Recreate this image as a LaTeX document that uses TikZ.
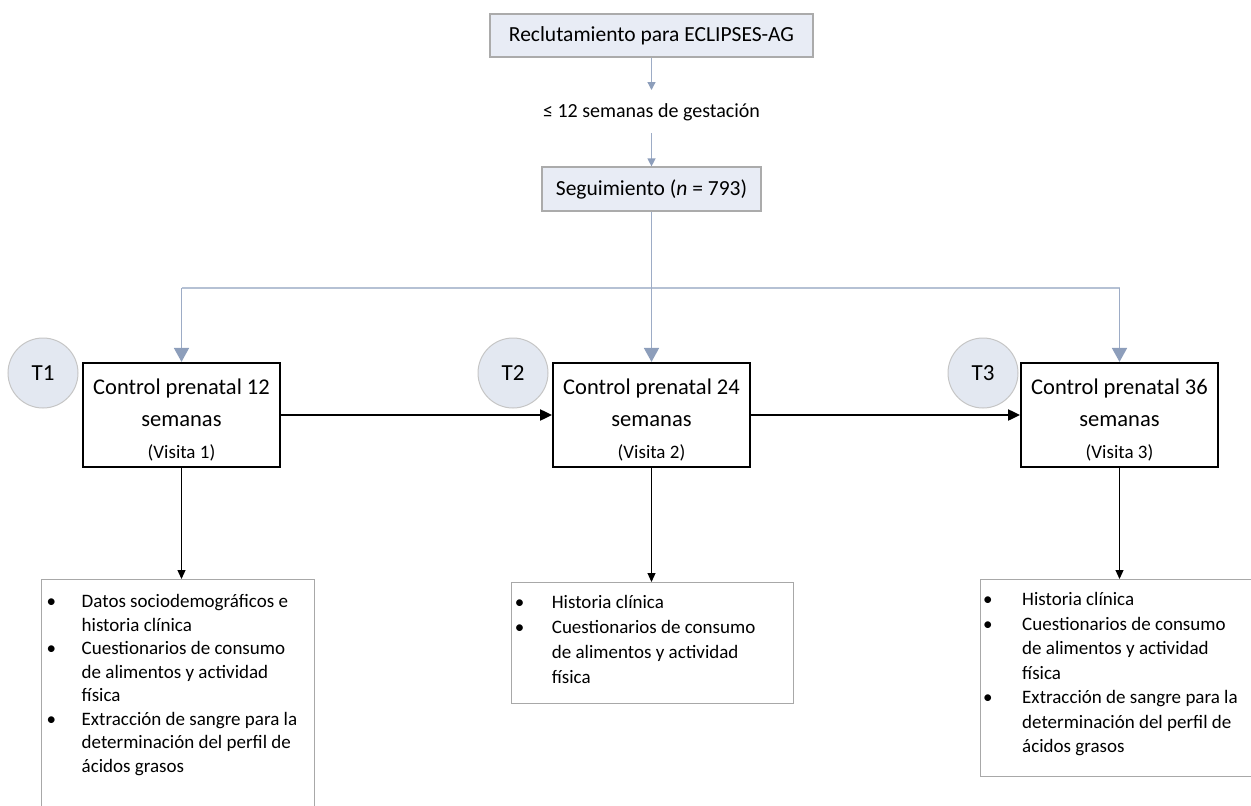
\documentclass[tikz,border=0pt]{standalone}
\usepackage{fontspec}
\setmainfont{Carlito}
\usetikzlibrary{arrows.meta}

\definecolor{flowblue}{HTML}{9DACC6}
\definecolor{headblue}{HTML}{8D9EBB}
\definecolor{hdrfill}{HTML}{E8ECF5}
\definecolor{hdrline}{HTML}{ABABAB}
\definecolor{circfill}{HTML}{E3E8F1}
\definecolor{circline}{HTML}{C6C6C6}
\definecolor{listline}{HTML}{A8A8A8}

\tikzset{
  hdrbox/.style={draw=hdrline, fill=hdrfill, line width=1.2pt, inner sep=0pt,
    font=\fontsize{21.5}{25}\selectfont},
  visitbox/.style={draw=black, line width=1.8pt, inner sep=0pt, align=center,
    minimum width=197pt, minimum height=104pt, font=\fontsize{22.5}{31.7}\selectfont},
  tcircle/.style={circle, draw=circline, fill=circfill, line width=1pt,
    minimum size=70pt, inner sep=0pt, font=\fontsize{23}{26}\selectfont},
  listbox/.style={draw=listline, line width=1pt, inner sep=0pt, anchor=north west},
  listtext/.style={inner sep=0pt, anchor=north west, align=left},
  bluearrow/.style={draw=flowblue, line width=1.8pt,
    -{Triangle[width=15pt,length=14pt,fill=headblue,color=headblue]}},
  thinblue/.style={draw=flowblue, line width=1.3pt,
    -{Triangle[width=8pt,length=8pt,fill=headblue,color=headblue]}},
  blueline/.style={draw=flowblue!75, line width=2pt},
  blackarrow/.style={draw=black, line width=2pt, -{Triangle[width=11pt,length=12pt]}},
  thinblack/.style={draw=black, line width=1.2pt, -{Triangle[width=8pt,length=9pt]}},
}

% bullet list laid out as fixed lines: #1 bullet column width, #2 line pitch
\newcommand\bulletlist[3]{{\fontsize{19}{#2}\selectfont
  \begin{tabular}{@{}p{#1}@{}l@{}}#3\end{tabular}}}
% visit box text with fixed first baseline and last depth
\newcommand\visit[2]{\rule{0pt}{32pt}Control prenatal #1\\semanas\\
  {\fontsize{19}{31.7}\selectfont (Visita #2)}\rule[-9pt]{0pt}{9pt}}

\begin{document}
\begin{tikzpicture}[x=1pt, y=-1pt]
\useasboundingbox (0,0) rectangle (1251,806);
\clip (0,0) rectangle (1251,806);

% header chain
\node[hdrbox, minimum width=323pt, minimum height=43pt] (recl) at (651.5,35.5)
  {Reclutamiento para ECLIPSES-AG};
\node[inner sep=0pt, font=\fontsize{20}{24}\selectfont] (gest) at (651.5,112)
  {≤ 12 semanas de gestación};
\node[hdrbox, minimum width=219pt, minimum height=44pt] (seg) at (651.5,189)
  {Seguimiento (\textit{n} = 793)};

\coordinate (gtop) at (651.5,133);
\draw[thinblue] (recl.south) -- (651.5,90);
\draw[thinblue] (gtop) -- (seg.north);

% visits
\node[visitbox] (v1) at (181.5,415) {\visit{12}{1}};
\node[visitbox] (v2) at (651.5,415) {\visit{24}{2}};
\node[visitbox] (v3) at (1119.5,415) {\visit{36}{3}};

\node[tcircle] (t1) at (43,373) {T1};
\node[tcircle] (t2) at (513,373) {T2};
\node[tcircle] (t3) at (983,373) {T3};

% branching from follow-up
\coordinate (split) at (651.5,288);
\coordinate (splitL) at (v1.north |- split);
\coordinate (splitR) at (v3.north |- split);
\draw[blueline] (splitL) -- (splitR);
\draw[bluearrow] (seg.south) -- (v2.north);
\draw[bluearrow] (splitL) -- (v1.north);
\draw[bluearrow] (splitR) -- (v3.north);

% sequence of visits
\draw[blackarrow] (v1.east) -- (v2.west);
\draw[blackarrow] (v2.east) -- (v3.west);

% data collected at each visit
\node[listbox, minimum width=273pt, minimum height=260pt] (la) at (41,579) {};
\node[listbox, minimum width=282pt, minimum height=121pt] (lb) at (511,582) {};
\node[listbox, minimum width=290pt, minimum height=197pt] (lc) at (980,579) {};

\node[listtext] (lat) at ([shift={(5.5,12.3)}]la.north west) {\bulletlist{35pt}{23.5}{
  • & Datos sociodemográficos e\\
    & historia clínica\\
  • & Cuestionarios de consumo\\
    & de alimentos y actividad\\
    & física\\
  • & Extracción de sangre para la\\
    & determinación del perfil de\\
    & ácidos grasos}};
\node[listtext] (lbt) at ([shift={(3.7,8.3)}]lb.north west) {\bulletlist{37pt}{25}{
  • & Historia clínica\\
  • & Cuestionarios de consumo\\
    & de alimentos y actividad\\
    & física}};
\node[listtext] (lct) at ([shift={(3,9.6)}]lc.north west) {\bulletlist{39pt}{24.5}{
  • & Historia clínica\\
  • & Cuestionarios de consumo\\
    & de alimentos y actividad\\
    & física\\
  • & Extracción de sangre para la\\
    & determinación del perfil de\\
    & ácidos grasos}};

\draw[thinblack] (v1.south) -- (v1.south |- la.north);
\draw[thinblack] (v2.south) -- (v2.south |- lb.north);
\draw[thinblack] (v3.south) -- (v3.south |- lc.north);
\end{tikzpicture}
\end{document}
